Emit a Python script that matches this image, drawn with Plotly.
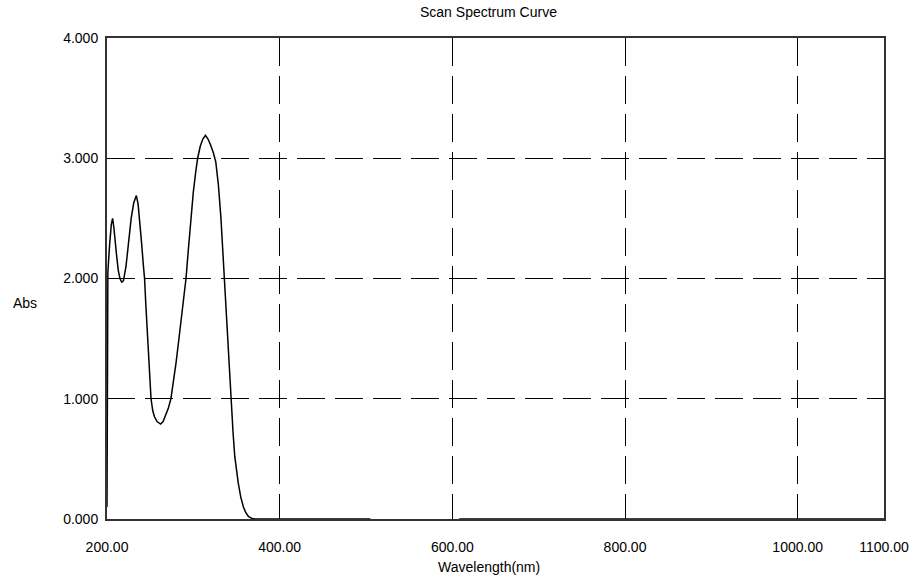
import plotly.graph_objects as go

# Scan spectrum data (wavelength nm, absorbance)
wavelength = [200, 201, 203, 205, 206.5, 208, 211, 213, 215, 217, 219, 222, 225, 228, 231, 234,
              236, 238, 240, 242, 243.5, 245, 247, 249, 251, 253, 255, 258, 262, 265, 268, 271,
              274, 277, 280, 283, 286, 289, 291.5, 294, 297, 300, 303, 305, 308, 311, 314, 317,
              320, 323, 326, 329, 332, 334, 336, 338, 340, 342, 344, 346, 348, 350, 352, 355,
              358, 361, 364, 368, 372, 400, 450, 505, None, 608, 700, 800, 900, 1000, 1100]
absorbance = [0.10, 2.05, 2.28, 2.45, 2.50, 2.42, 2.20, 2.07, 2.00, 1.97, 1.98, 2.10, 2.30, 2.50, 2.63, 2.69,
              2.62, 2.48, 2.30, 2.12, 2.00, 1.78, 1.50, 1.25, 1.00, 0.90, 0.85, 0.81, 0.79, 0.81, 0.86, 0.92,
              1.00, 1.14, 1.30, 1.48, 1.67, 1.86, 2.00, 2.22, 2.50, 2.72, 2.90, 3.00, 3.10, 3.16, 3.19, 3.16,
              3.11, 3.05, 2.97, 2.78, 2.50, 2.25, 2.00, 1.70, 1.42, 1.15, 0.95, 0.72, 0.52, 0.40, 0.30, 0.18,
              0.10, 0.05, 0.02, 0.005, 0.0, 0.0, 0.0, 0.0, None, 0.0, 0.0, 0.0, 0.0, 0.0, 0.0]

x_ticks = [200, 400, 600, 800, 1000, 1100]
x_tick_labels = ["200.00", "400.00", "600.00", "800.00", "1000.00", "1100.00"]
y_ticks = [0, 1, 2, 3, 4]
y_tick_labels = ["0.000", "1.000", "2.000", "3.000", "4.000"]

FONT = "Liberation Sans Narrow, Arial Narrow, Liberation Sans, Arial, sans-serif"

fig = go.Figure()
fig.add_trace(go.Scatter(x=wavelength, y=absorbance, mode="lines",
                         line=dict(color="black", width=1.5), connectgaps=False,
                         showlegend=False, hoverinfo="x+y"))

W, H = 921, 577
L, R, T, B = 107, 34, 38, 58
pw, ph = W - L - R, H - T - B

fig.update_layout(
    width=W, height=H, margin=dict(l=L, r=R, t=T, b=B),
    paper_bgcolor="white", plot_bgcolor="white",
    font=dict(family=FONT, size=14, color="black"),
    xaxis=dict(range=[200, 1100], tickvals=x_ticks, ticktext=x_tick_labels,
               showgrid=True, gridcolor="black", gridwidth=1, griddash="28px,10px",
               showline=True, linecolor="#333", linewidth=2, mirror=True,
               zeroline=False, ticks="", ticklabelstandoff=14),
    yaxis=dict(range=[0, 4], tickvals=y_ticks, ticktext=y_tick_labels,
               showgrid=True, gridcolor="black", gridwidth=1, griddash="28px,10px",
               showline=True, linecolor="#333", linewidth=2, mirror=True,
               zeroline=False, ticks="", ticklabelstandoff=4),
)

fig.add_annotation(text="Scan Spectrum Curve", xref="paper", yref="paper",
                   x=(490 - L) / pw, y=(H - 12 - B) / ph, showarrow=False,
                   xanchor="center", yanchor="middle", font=dict(size=14))
fig.add_annotation(text="Wavelength(nm)", xref="paper", yref="paper",
                   x=(490 - L) / pw, y=(H - 567 - B) / ph, showarrow=False,
                   xanchor="center", yanchor="middle", font=dict(size=14))
fig.add_annotation(text="Abs", xref="paper", yref="paper",
                   x=(25 - L) / pw, y=(H - 303 - B) / ph, showarrow=False,
                   xanchor="center", yanchor="middle", font=dict(size=14))

fig.write_html("out.html")
